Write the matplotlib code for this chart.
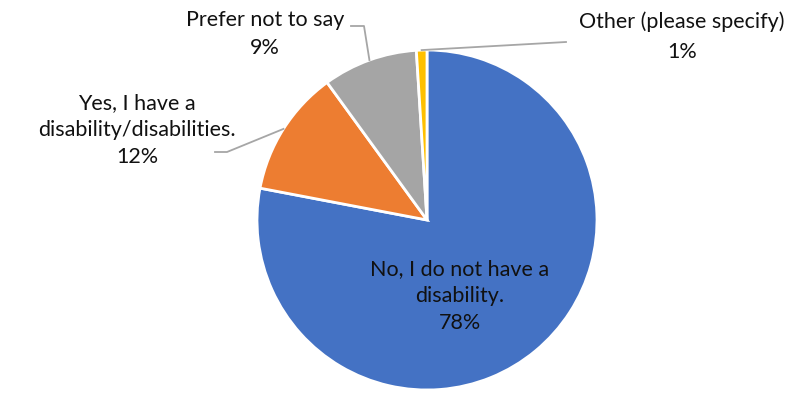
import numpy as np
import matplotlib
matplotlib.use("Agg")
import matplotlib.pyplot as plt

categories = ["No, I do not have a\ndisability.", "Yes, I have a\ndisability/disabilities.",
              "Prefer not to say", "Other (please specify)"]
values = [78, 12, 9, 1]
pct_labels = ["78%", "12%", "9%", "1%"]
colors = ["#4472C4", "#ED7D31", "#A5A5A5", "#FFC000"]

W, H = 800, 393
fig = plt.figure(figsize=(8, 3.93), dpi=100)
ax = fig.add_axes([0, 0, 1, 1])

cx, cy, R = 427, H - 220, 170
wedges, _ = ax.pie(values, colors=colors, startangle=90, counterclock=False,
                   center=(cx, cy), radius=R, frame=True,
                   wedgeprops=dict(edgecolor="white", linewidth=2))
ax.set_xlim(0, W)
ax.set_ylim(0, H)
ax.set_aspect("equal")
ax.axis("off")

fs = 15.5
font = "Lato"
txt_kw = dict(ha="center", va="center", fontsize=fs, family=font, color="#111111",
              linespacing=1.45)

def y(p):
    return H - p

def edge_point(w):
    a = np.deg2rad((w.theta1 + w.theta2) / 2)
    return cx + R * np.cos(a), cy + R * np.sin(a)

ax.text(460, y(296), categories[0] + "\n" + pct_labels[0], **txt_kw)
ax.text(137, y(130), categories[1] + "\n" + pct_labels[1], **txt_kw)
ax.text(265, y(34), categories[2] + "\n" + pct_labels[2], **txt_kw)
ax.text(682, y(37), categories[3] + "\n" + pct_labels[3],
        **{**txt_kw, "linespacing": 1.6})

lc = "#A6A6A6"
x0, y0 = edge_point(wedges[1])
ax.plot([x0, 227, 215], [y0, y(152), y(152)], color=lc, lw=1.3)
x0, y0 = edge_point(wedges[2])
ax.plot([x0, 364, 351], [y0, y(26), y(26)], color=lc, lw=1.3)
x0, y0 = edge_point(wedges[3])
ax.plot([x0, 566], [y0, y(42)], color=lc, lw=1.3)

fig.savefig("out.png", dpi=100, facecolor="white")
